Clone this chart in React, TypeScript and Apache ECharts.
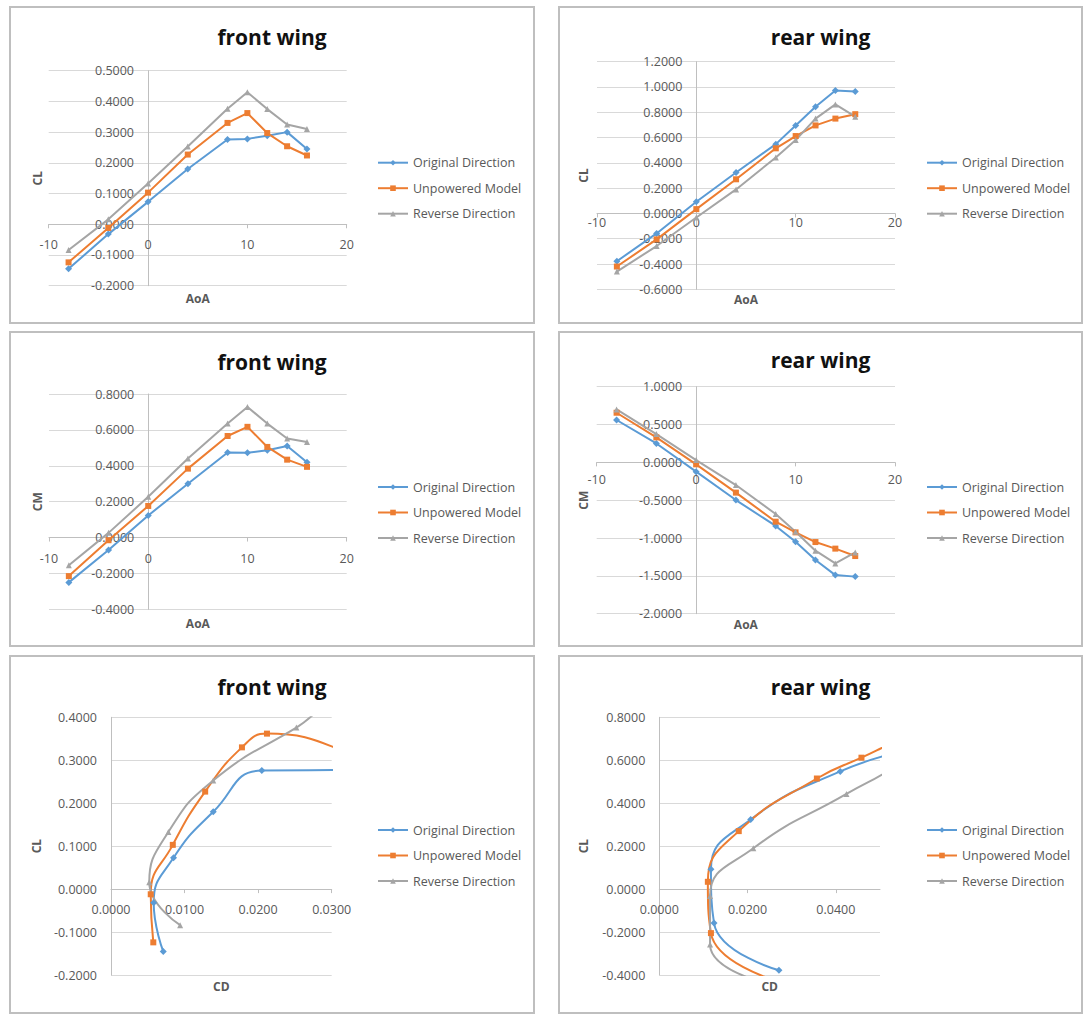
import React, { useEffect, useRef } from 'react';
import * as echarts from 'echarts';

// ---------- data ----------
const SERIES_NAMES = ['Original Direction', 'Unpowered Model', 'Reverse Direction'];
const AOA = [-8, -4, 0, 4, 8, 10, 12, 14, 16];

const FRONT_CL_ORIGINAL = [-0.145, -0.032, 0.073, 0.18, 0.276, 0.278, 0.288, 0.3, 0.245];
const FRONT_CL_UNPOWERED = [-0.124, -0.012, 0.103, 0.227, 0.33, 0.362, 0.297, 0.254, 0.224];
const FRONT_CL_REVERSE = [-0.084, 0.016, 0.133, 0.253, 0.376, 0.43, 0.375, 0.325, 0.31];

const REAR_CL_ORIGINAL = [-0.378, -0.158, 0.092, 0.324, 0.548, 0.696, 0.844, 0.972, 0.965];
const REAR_CL_UNPOWERED = [-0.42, -0.205, 0.034, 0.27, 0.515, 0.612, 0.696, 0.75, 0.785];
const REAR_CL_REVERSE = [-0.46, -0.258, -0.032, 0.19, 0.443, 0.58, 0.75, 0.862, 0.765];

const FRONT_CM_ORIGINAL = [-0.25, -0.07, 0.123, 0.3, 0.474, 0.472, 0.487, 0.51, 0.42];
const FRONT_CM_UNPOWERED = [-0.215, -0.015, 0.176, 0.384, 0.566, 0.617, 0.505, 0.434, 0.394];
const FRONT_CM_REVERSE = [-0.154, 0.026, 0.227, 0.44, 0.635, 0.728, 0.635, 0.552, 0.533];

const REAR_CM_ORIGINAL = [0.56, 0.25, -0.123, -0.498, -0.84, -1.05, -1.29, -1.49, -1.51];
const REAR_CM_UNPOWERED = [0.656, 0.33, -0.026, -0.4, -0.784, -0.925, -1.053, -1.14, -1.238];
const REAR_CM_REVERSE = [0.7, 0.374, 0.03, -0.3, -0.683, -0.916, -1.167, -1.335, -1.19];

const FRONT_CD_ORIGINAL = [0.0071, 0.0058, 0.0085, 0.0139, 0.0205, 0.034, 0.045, 0.056, 0.07];
const FRONT_CD_UNPOWERED = [0.00575, 0.0054, 0.0084, 0.0128, 0.0178, 0.0212, 0.036, 0.045, 0.055];
const FRONT_CD_REVERSE = [0.0094, 0.0052, 0.0078, 0.0139, 0.0252, 0.031, 0.04, 0.05, 0.058];

const REAR_CD_ORIGINAL = [0.0271, 0.0124, 0.0117, 0.0207, 0.041, 0.062, 0.075, 0.088, 0.095];
const REAR_CD_UNPOWERED = [0.0256, 0.0117, 0.011, 0.018, 0.0357, 0.0458, 0.055, 0.064, 0.072];
const REAR_CD_REVERSE = [0.0282, 0.0115, 0.0115, 0.0213, 0.0424, 0.054, 0.064, 0.073, 0.068];

const TITLES = ['front wing', 'rear wing', 'front wing', 'rear wing', 'front wing', 'rear wing'];
const X_NAMES = ['AoA', 'AoA', 'AoA', 'AoA', 'CD', 'CD'];
const Y_NAMES = ['CL', 'CL', 'CM', 'CM', 'CL', 'CL'];

const X_RANGES = [
  { min: -10, max: 20, interval: 10 },
  { min: -10, max: 20, interval: 10 },
  { min: -10, max: 20, interval: 10 },
  { min: -10, max: 20, interval: 10 },
  { min: 0, max: 0.03, interval: 0.01 },
  { min: 0, max: 0.05, interval: 0.02 },
];
const Y_RANGES = [
  { min: -0.2, max: 0.5, interval: 0.1 },
  { min: -0.6, max: 1.2, interval: 0.2 },
  { min: -0.4, max: 0.8, interval: 0.2 },
  { min: -2, max: 1, interval: 0.5 },
  { min: -0.2, max: 0.4, interval: 0.1 },
  { min: -0.4, max: 0.8, interval: 0.2 },
];
const X_LABEL_VALUES_REAR_POLAR = [0, 0.02, 0.04];

const PANEL_SERIES = [
  { xs: [AOA, AOA, AOA], ys: [FRONT_CL_ORIGINAL, FRONT_CL_UNPOWERED, FRONT_CL_REVERSE], smooth: false },
  { xs: [AOA, AOA, AOA], ys: [REAR_CL_ORIGINAL, REAR_CL_UNPOWERED, REAR_CL_REVERSE], smooth: false },
  { xs: [AOA, AOA, AOA], ys: [FRONT_CM_ORIGINAL, FRONT_CM_UNPOWERED, FRONT_CM_REVERSE], smooth: false },
  { xs: [AOA, AOA, AOA], ys: [REAR_CM_ORIGINAL, REAR_CM_UNPOWERED, REAR_CM_REVERSE], smooth: false },
  { xs: [FRONT_CD_ORIGINAL, FRONT_CD_UNPOWERED, FRONT_CD_REVERSE], ys: [FRONT_CL_ORIGINAL, FRONT_CL_UNPOWERED, FRONT_CL_REVERSE], smooth: true },
  { xs: [REAR_CD_ORIGINAL, REAR_CD_UNPOWERED, REAR_CD_REVERSE], ys: [REAR_CL_ORIGINAL, REAR_CL_UNPOWERED, REAR_CL_REVERSE], smooth: true },
];

// ---------- layout & style ----------
const FONT = 'Open Sans';
const COLORS = ['#5B9BD5', '#ED7D31', '#A5A5A5'];
const SYMBOLS = ['diamond', 'rect', 'triangle'];
const SYMBOL_SIZES = [7, 6, 6];

const PANEL_BOXES = [
  { x: 10, y: 7, w: 524, h: 316 },
  { x: 559, y: 7, w: 523, h: 316 },
  { x: 10, y: 332, w: 524, h: 314 },
  { x: 559, y: 332, w: 523, h: 314 },
  { x: 10, y: 656, w: 524, h: 357 },
  { x: 559, y: 656, w: 523, h: 357 },
];
const TITLE_Y = [36.7, 36.7, 361.5, 360, 686.7, 686.7];
const GRIDS = [
  { left: 48.7, top: 70.7, width: 298, height: 215 },
  { left: 597, top: 61.7, width: 298, height: 227.6 },
  { left: 49, top: 394, width: 297.7, height: 215.3 },
  { left: 596.7, top: 386.7, width: 298.3, height: 227 },
  { left: 111, top: 717.3, width: 220.7, height: 257.7 },
  { left: 659.3, top: 717.3, width: 220.7, height: 257.7 },
];
const X_NAME_GAP = [68, 80.5, 80, 156.5, 91.7, 91.7];
const Y_NAME_GAP = [104.7, 106.4, 105, 106.4, 68.3, 70];
const X_LABEL_MARGIN = [14, 3, 14, 11, 14, 14];
const LEGEND_POS = [
  { left: 377, top: 155.7 },
  { left: 926, top: 155.7 },
  { left: 377, top: 480 },
  { left: 926, top: 480 },
  { left: 377, top: 823 },
  { left: 926, top: 823 },
];

function buildOption() {
  const grid: any[] = [];
  const xAxis: any[] = [];
  const yAxis: any[] = [];
  const series: any[] = [];
  const legend: any[] = [];
  const graphic: any[] = [];

  PANEL_BOXES.forEach((b, i) => {
    graphic.push({
      type: 'rect',
      silent: true,
      z: -10,
      shape: { x: b.x, y: b.y, width: b.w, height: b.h },
      style: { fill: '#ffffff', stroke: '#BFBFBF', lineWidth: 2 },
    });
    graphic.push({
      type: 'text',
      silent: true,
      x: b.x + b.w / 2,
      y: TITLE_Y[i],
      style: {
        text: TITLES[i],
        fontFamily: FONT,
        fontWeight: 'bold',
        fontSize: 21,
        fill: '#111111',
        align: 'center',
        verticalAlign: 'middle',
      },
    });
  });

  for (let i = 0; i < 6; i++) {
    const g = GRIDS[i];
    const xr = X_RANGES[i];
    const yr = Y_RANGES[i];
    grid.push({ ...g, containLabel: false, outerBoundsMode: 'none' });
    // axes cross at zero (Excel style): shift each axis from the grid edge to the other axis' zero
    const xAxisOffset = -((0 - yr.min) / (yr.max - yr.min)) * g.height;
    const yAxisOffset = -((0 - xr.min) / (xr.max - xr.min)) * g.width;

    const isPolar = i >= 4;
    const xLabel: any = {
      margin: X_LABEL_MARGIN[i],
      color: '#595959',
      fontSize: 12.5,
      fontFamily: FONT,
      formatter: (v: number) => (isPolar ? v.toFixed(4) : String(Math.round(v))),
    };
    const xTick: any = { show: true, length: 4, lineStyle: { color: '#BFBFBF' } };
    if (i === 5) {
      xLabel.customValues = X_LABEL_VALUES_REAR_POLAR;
      xTick.customValues = X_LABEL_VALUES_REAR_POLAR;
    }
    xAxis.push({
      type: 'value',
      gridIndex: i,
      position: 'bottom',
      offset: xAxisOffset,
      ...xr,
      axisLine: { show: true, onZero: false, lineStyle: { color: '#BFBFBF', width: 1 } },
      axisTick: xTick,
      axisLabel: xLabel,
      splitLine: { show: false },
      name: X_NAMES[i],
      nameLocation: 'middle',
      nameGap: X_NAME_GAP[i],
      nameTextStyle: { fontWeight: 'bold', fontSize: 12, color: '#595959', fontFamily: FONT },
    });
    yAxis.push({
      type: 'value',
      gridIndex: i,
      position: 'left',
      offset: yAxisOffset,
      ...yr,
      axisLine: { show: true, onZero: false, lineStyle: { color: '#BFBFBF', width: 1 } },
      axisTick: { show: false },
      axisLabel: {
        margin: 14,
        color: '#595959',
        fontSize: 12.5,
        fontFamily: FONT,
        formatter: (v: number) => v.toFixed(4),
      },
      splitLine: { show: true, lineStyle: { color: '#D9D9D9', width: 1 } },
      name: Y_NAMES[i],
      nameLocation: 'middle',
      nameGap: Y_NAME_GAP[i],
      nameTextStyle: { fontWeight: 'bold', fontSize: 12, color: '#595959', fontFamily: FONT },
    });

    const ps = PANEL_SERIES[i];
    for (let s = 0; s < 3; s++) {
      series.push({
        type: 'line',
        name: SERIES_NAMES[s],
        xAxisIndex: i,
        yAxisIndex: i,
        data: ps.xs[s].map((x, k) => [x, ps.ys[s][k]]),
        smooth: ps.smooth,
        symbol: SYMBOLS[s],
        symbolSize: SYMBOL_SIZES[s],
        showSymbol: true,
        clip: true,
        lineStyle: { color: COLORS[s], width: 2 },
        itemStyle: { color: COLORS[s] },
      });
    }

    legend.push({
      orient: 'vertical',
      left: LEGEND_POS[i].left,
      top: LEGEND_POS[i].top,
      padding: 0,
      itemWidth: 30,
      itemHeight: 7,
      itemGap: 11.5,
      selectedMode: false,
      textStyle: { color: '#595959', fontSize: 12.5, fontFamily: FONT, lineHeight: 14 },
      data: SERIES_NAMES,
    });
  }

  return {
    animation: false,
    backgroundColor: '#ffffff',
    grid,
    xAxis,
    yAxis,
    series,
    legend,
    graphic,
  };
}

export default function App() {
  const ref = useRef<HTMLDivElement>(null);
  useEffect(() => {
    if (!ref.current) return;
    const chart = echarts.init(ref.current, null, { renderer: 'svg' });
    chart.setOption(buildOption() as any);
    return () => {
      chart.dispose();
    };
  }, []);
  return (
    <div
      ref={ref}
      style={{ position: 'absolute', left: 0, top: 0, width: 1089, height: 1019, background: '#ffffff' }}
    />
  );
}
